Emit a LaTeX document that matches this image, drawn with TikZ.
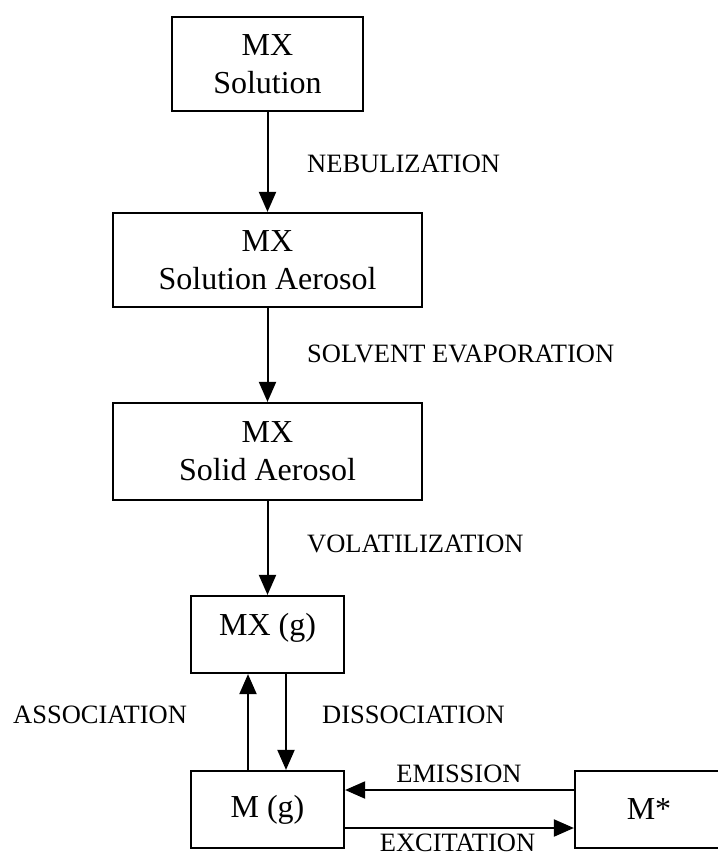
\documentclass[tikz,border=0pt]{standalone}
\usepackage{fontspec}
\setmainfont{Liberation Serif}
\usetikzlibrary{arrows.meta}
\begin{document}
\begin{tikzpicture}[x=1pt,y=-1pt,
  boxnode/.style={draw,line width=2.2pt,inner sep=0pt,align=center,
    font=\fontsize{32}{38}\selectfont},
  lbl/.style={inner sep=0pt,font=\fontsize{26.5}{30}\selectfont},
  flow/.style={line width=2pt,-{Triangle[length=20pt,width=17pt]}}]
\fill[white] (0,0) rectangle (717,856);
\useasboundingbox (0,0) rectangle (717,856);
\node[boxnode,minimum width=191pt,minimum height=94pt] (sol) at (267.5,64) {MX\\Solution};
\node[boxnode,minimum width=309pt,minimum height=94pt] (solaer) at (267.5,260) {MX\\Solution Aerosol};
\node[boxnode,minimum width=309pt,minimum height=97pt] (solid) at (267.5,451.5) {MX\\Solid Aerosol};
\node[boxnode,minimum width=153pt,minimum height=77pt,text depth=20pt] (mxg) at (267.5,634.5) {MX (g)};
\node[boxnode,minimum width=153pt,minimum height=77pt] (mg) at (267.5,809.5) {M (g)};
\node[boxnode,minimum width=148pt,minimum height=77pt] (mstar) at (649,809.5) {M*};
\draw[flow] (sol.south) -- (solaer.north);
\draw[flow] (solaer.south) -- (solid.north);
\draw[flow] (solid.south) -- (mxg.north);
\draw[flow] ([xshift=-19.5pt]mg.north) -- ([xshift=-19.5pt]mxg.south);
\draw[flow] ([xshift=18.5pt]mxg.south) -- ([xshift=18.5pt]mg.north);
\draw[flow] ([yshift=19.5pt]mstar.west) -- ([yshift=19.5pt]mg.east);
\draw[flow] ([yshift=-18.5pt]mg.east) -- ([yshift=-18.5pt]mstar.west);
\node[lbl,anchor=base west] (neb) at (307,172) {NEBULIZATION};
\node[lbl,anchor=base west] (evap) at (307,362) {SOLVENT EVAPORATION};
\node[lbl,anchor=base west] (vol) at (307,552) {VOLATILIZATION};
\node[lbl,anchor=base west] (assoc) at (13,723) {ASSOCIATION};
\node[lbl,anchor=base west] (dissoc) at (322,723) {DISSOCIATION};
\node[lbl,anchor=base] (emis) at (459,782) {EMISSION};
\node[lbl,anchor=base] (excit) at (457.5,851) {EXCITATION};
\end{tikzpicture}
\end{document}
